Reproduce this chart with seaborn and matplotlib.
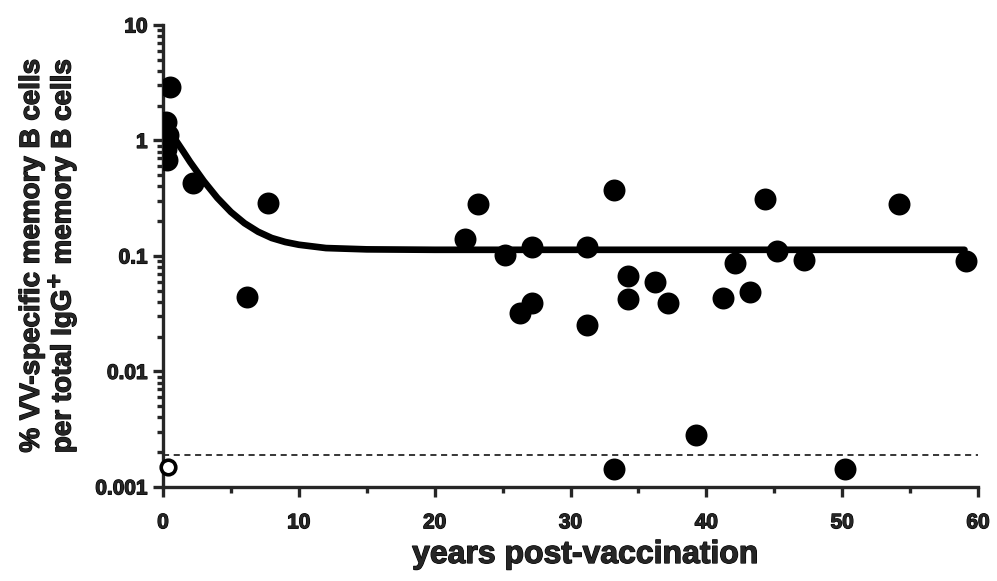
import numpy as np
import pandas as pd
import matplotlib
matplotlib.use("Agg")
import matplotlib.pyplot as plt
import matplotlib.patheffects as pe
import seaborn as sns
from matplotlib.ticker import LogLocator, FixedLocator, NullFormatter

# ----------------------------------------------------
# Data
# ----------------------------------------------------

years = [0.5, 0.2, 0.4, 0.2, 0.3, 2.2, 6.2, 7.7,
         22.2, 23.2, 25.2, 26.3, 27.2, 27.2, 31.2, 31.2,
         33.2, 33.2, 34.2, 34.2, 36.2, 37.2, 39.2,
         41.2, 42.1, 43.2, 44.3, 45.2, 47.2, 50.2, 54.2, 59.1]
percent = [2.9, 1.45, 1.12, 0.84, 0.68, 0.43, 0.044, 0.29,
           0.14, 0.28, 0.102, 0.032, 0.12, 0.039, 0.12, 0.025,
           0.37, 0.00143, 0.067, 0.042, 0.06, 0.039, 0.0028,
           0.043, 0.087, 0.049, 0.31, 0.11, 0.092, 0.00143, 0.28, 0.091]

# undetected sample (open symbol)
open_years = [0.4]
open_percent = [0.0015]

# fitted decay curve
fit_years = [0, 0.5, 1, 1.5, 2, 3, 4, 5, 6, 7, 8, 9, 10, 12, 15, 20, 59]
fit_percent = [1.51, 1.21, 0.98, 0.80, 0.65, 0.445, 0.318, 0.240, 0.192,
               0.162, 0.143, 0.132, 0.125, 0.117, 0.114, 0.113, 0.113]

detection_limit = 0.0019

x_ticks = [0, 10, 20, 30, 40, 50, 60]
y_ticks = [0.001, 0.01, 0.1, 1, 10]
y_labels = ["0.001", "0.01", "0.1", "1", "10"]

points = pd.DataFrame({"years": years, "percent": percent})
curve = pd.DataFrame({"years": fit_years, "percent": fit_percent})

# ----------------------------------------------------
# Style
# ----------------------------------------------------

sns.set_style("ticks")
plt.rcParams["font.family"] = ["Liberation Sans", "DejaVu Sans"]
plt.rcParams["font.weight"] = "bold"

heavy = [pe.withStroke(linewidth=0.9, foreground="black")]

fig, ax = plt.subplots(figsize=(9.97, 5.81), dpi=100)
fig.subplots_adjust(left=0.1635, right=0.981, top=0.957, bottom=0.162)

# ----------------------------------------------------
# Plot
# ----------------------------------------------------

ax.set_yscale("log")

ax.axhline(detection_limit, color="black", lw=1.1, ls=(0, (4, 3)), zorder=1)

sns.lineplot(data=curve, x="years", y="percent", ax=ax,
             color="black", lw=4.8, zorder=2)

sns.scatterplot(data=points, x="years", y="percent", ax=ax,
                s=250, color="black", edgecolor="black", linewidth=0,
                zorder=3)

ax.scatter(open_years, open_percent, s=110, facecolor="white",
           edgecolor="black", linewidth=2.6, zorder=3, clip_on=False)

ax.set_xlim(0, 60)
ax.set_ylim(0.001, 10)

ax.xaxis.set_major_locator(FixedLocator(x_ticks))
ax.xaxis.set_minor_locator(FixedLocator([5, 15, 25, 35, 45, 55]))
ax.set_xticklabels([str(t) for t in x_ticks])

ax.yaxis.set_major_locator(FixedLocator(y_ticks))
ax.yaxis.set_minor_locator(LogLocator(base=10, subs=np.arange(2, 10)))
ax.yaxis.set_minor_formatter(NullFormatter())
ax.set_yticklabels(y_labels)

for spine in ["top", "right"]:
    ax.spines[spine].set_visible(False)
for spine in ["left", "bottom"]:
    ax.spines[spine].set_linewidth(2.4)

ax.tick_params(axis="x", which="major", length=7, width=2.4,
               labelsize=15, pad=12)
ax.tick_params(axis="y", which="major", length=7, width=2.4,
               labelsize=15, pad=4)
ax.tick_params(axis="both", which="minor", length=4, width=2.4)

for lab in ax.get_xticklabels() + ax.get_yticklabels():
    lab.set_fontweight("bold")
    lab.set_path_effects(heavy)

ax.set_xlabel("years post-vaccination", fontsize=23, fontweight="bold",
              path_effects=heavy)
ax.xaxis.set_label_coords(0.518, -0.115)
ax.set_ylabel("% VV-specific memory B cells\nper total IgG$^{\\mathbf{+}}$ memory B cells",
              fontsize=20, fontweight="bold", labelpad=12, linespacing=1.0,
              path_effects=heavy)

plt.savefig("out.png", dpi=100)
